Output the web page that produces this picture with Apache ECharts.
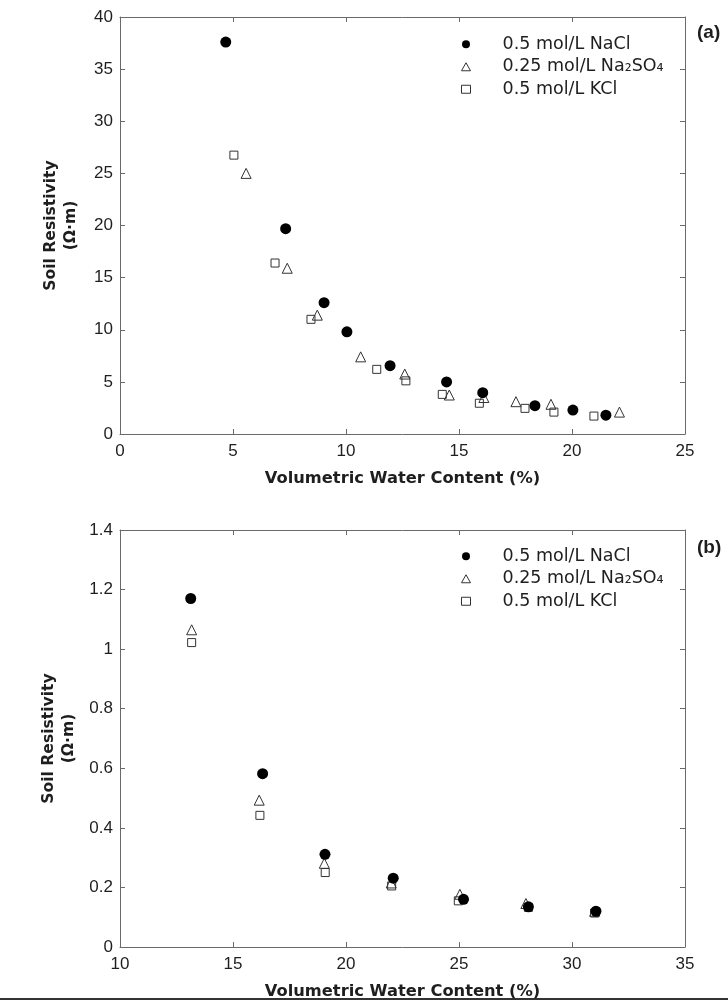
<!DOCTYPE html>
<html><head><meta charset="utf-8">
<script src="https://cdn.jsdelivr.net/npm/echarts@6/dist/echarts.min.js"></script>
<style>html,body{margin:0;padding:0;background:#fff}#c{width:728px;height:1001px}</style>
</head><body><div id="c"></div>
<script>
const seriesNames = ['0.5 mol/L NaCl', '0.25 mol/L Na₂SO₄', '0.5 mol/L KCl'];
// Panel (a): [water content %, resistivity Ω·m]
const aNaCl = [[4.68,37.6],[7.33,19.7],[9.03,12.6],[10.04,9.8],[11.95,6.55],[14.45,5.0],[16.05,3.96],[18.36,2.72],[20.04,2.3],[21.5,1.8]];
const aNa2SO4 = [[5.58,25.0],[7.4,15.9],[8.73,11.4],[10.65,7.4],[12.6,5.75],[14.57,3.74],[16.1,3.5],[17.52,3.1],[19.07,2.85],[22.1,2.1]];
const aKCl = [[5.04,26.75],[6.86,16.4],[8.45,11.0],[11.36,6.2],[12.65,5.1],[14.26,3.8],[15.9,2.95],[17.92,2.46],[19.2,2.1],[20.97,1.72]];
// Panel (b)
const bNaCl = [[13.13,1.17],[16.31,0.582],[19.07,0.311],[22.09,0.231],[25.2,0.16],[28.07,0.135],[31.06,0.12]];
const bNa2SO4 = [[13.17,1.065],[16.16,0.493],[19.04,0.281],[22.0,0.215],[25.04,0.177],[27.96,0.146],[31.0,0.12]];
const bKCl = [[13.17,1.022],[16.19,0.442],[19.08,0.25],[22.02,0.205],[24.97,0.155],[28.07,0.133],[31.0,0.114]];
const xTitle = 'Volumetric Water Content (%)';
const yTitle = 'Soil Resistivity\n(Ω·m)';
const panelTags = ['(a)', '(b)'];

const axisCol = '#6a6a6a';
const txtCol = '#1e1e1e';
const font = 'Liberation Sans, Arial, sans-serif';
const wfont = 'DejaVu Sans, sans-serif';
function xAx(gi, min, max, main) {
  return {
    type: 'value', gridIndex: gi, min, max, interval: 5,
    position: main ? 'bottom' : 'top',
    name: main ? xTitle : '', nameLocation: 'middle', nameGap: 37,
    nameTextStyle: {fontFamily: wfont, fontSize: 16.3, fontWeight: 'bold', color: txtCol},
    axisLine: {show: true, onZero: false, lineStyle: {color: axisCol, width: 1}},
    axisTick: {show: true, inside: true, length: 5, lineStyle: {color: axisCol}},
    axisLabel: {show: main, color: txtCol, fontFamily: font, fontSize: 17, margin: 9},
    splitLine: {show: false}
  };
}
function yAx(gi, min, max, iv, main) {
  return {
    type: 'value', gridIndex: gi, min, max, interval: iv,
    position: main ? 'left' : 'right',
    name: main ? yTitle : '', nameLocation: 'middle', nameGap: 39, nameRotate: 90,
    nameTextStyle: {fontFamily: wfont, fontSize: 15.6, fontWeight: 'bold', color: txtCol, lineHeight: 20},
    axisLine: {show: true, onZero: false, lineStyle: {color: axisCol, width: 1}},
    axisTick: {show: true, inside: true, length: 5, lineStyle: {color: axisCol}},
    axisLabel: {show: main, color: txtCol, fontFamily: font, fontSize: 17, margin: 7},
    splitLine: {show: false}
  };
}
const styles = [
  {symbol: 'circle', symbolSize: 11, itemStyle: {color: '#000', opacity: 1, borderWidth: 0}},
  {symbol: 'triangle', symbolSize: 10, itemStyle: {color: 'rgba(255,255,255,0)', opacity: 1, borderColor: '#333', borderWidth: 1}},
  {symbol: 'rect', symbolSize: 8, itemStyle: {color: 'rgba(255,255,255,0)', opacity: 1, borderColor: '#333', borderWidth: 1}}
];
function sc(name, data, gi, st) {
  return Object.assign({type: 'scatter', name, data, xAxisIndex: gi * 2, yAxisIndex: gi * 2}, st, {z: 3, emphasis: {disabled: true}});
}
function legend(top) {
  return {
    orient: 'vertical', left: 456, top, itemGap: 2, itemWidth: 9, itemHeight: 8,
    data: [
      {name: seriesNames[0], icon: 'circle', itemStyle: {color: '#000', opacity: 1}},
      {name: seriesNames[1], icon: 'triangle', itemStyle: {color: '#fff', borderColor: '#333', borderWidth: 1}},
      {name: seriesNames[2], icon: 'rect', itemStyle: {color: '#fff', borderColor: '#333', borderWidth: 1}}
    ],
    selectedMode: false,
    textStyle: {color: txtCol, fontFamily: wfont, fontSize: 17.5, lineHeight: 20.5, padding: [0, 0, 0, 27]}
  };
}
const chart = echarts.init(document.getElementById('c'), null, {renderer: 'canvas'});
chart.setOption({
  backgroundColor: '#fff',
  animation: false,
  grid: [
    {left: 120, right: 43, top: 17, height: 417},
    {left: 120, right: 43, top: 530, height: 418}
  ],
  xAxis: [xAx(0, 0, 25, true), xAx(0, 0, 25, false), xAx(1, 10, 35, true), xAx(1, 10, 35, false)],
  yAxis: [yAx(0, 0, 40, 5, true), yAx(0, 0, 40, 5, false), yAx(1, 0, 1.4, 0.2, true), yAx(1, 0, 1.4, 0.2, false)],
  legend: [legend(29), legend(541)],
  series: [
    sc(seriesNames[2], aKCl, 0, styles[2]),
    sc(seriesNames[1], aNa2SO4, 0, styles[1]),
    sc(seriesNames[0], aNaCl, 0, styles[0]),
    sc(seriesNames[2], bKCl, 1, styles[2]),
    sc(seriesNames[1], bNa2SO4, 1, styles[1]),
    sc(seriesNames[0], bNaCl, 1, styles[0])
  ],
  graphic: [
    {type: 'text', left: 697, top: 23, style: {text: panelTags[0], font: 'bold 19px ' + font, fill: txtCol}},
    {type: 'text', left: 697, top: 538, style: {text: panelTags[1], font: 'bold 19px ' + font, fill: txtCol}},
    {type: 'rect', shape: {x: 0, y: 998, width: 728, height: 2}, style: {fill: '#333'}}
  ]
});
</script></body></html>
